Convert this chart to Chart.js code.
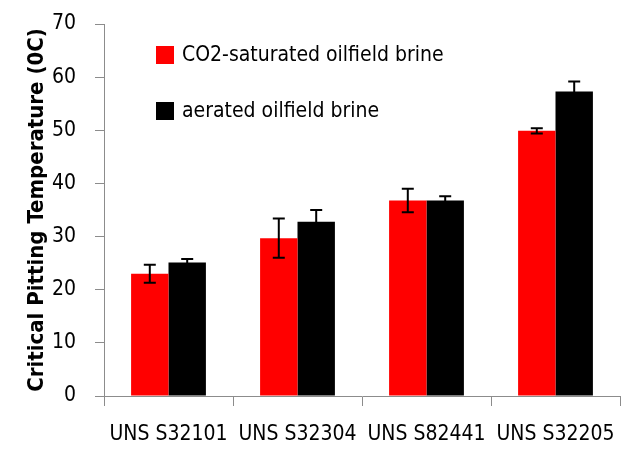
<!DOCTYPE html>
<html>
<head>
<meta charset="utf-8">
<script src="https://cdn.jsdelivr.net/npm/chart.js@4.4.0/dist/chart.umd.min.js"></script>
<style>
  html, body { margin: 0; padding: 0; background: #fff; }
  #wrap { width: 621px; height: 450px; }
</style>
</head>
<body>
<div id="wrap"><canvas id="chart-cpt" width="621" height="450"></canvas></div>
<script>
var alloys = ["UNS S32101", "UNS S32304", "UNS S82441", "UNS S32205"];
var co2Brine = [23.0, 29.7, 36.8, 49.9];
var co2Err = [1.7, 3.7, 2.2, 0.5];
var airBrine = [25.1, 32.8, 36.8, 57.3];
var airErr = [0.7, 2.2, 0.8, 1.9];
var yTicks = [0, 10, 20, 30, 40, 50, 60, 70];

var fontFam = "'DejaVu Sans Condensed', 'Liberation Sans Narrow', Arial, sans-serif";
var axisGray = '#8c8c8c';

// error bars, drawn through the y scale
var errorBars = {
    id: 'errorBars',
    afterDatasetsDraw: function (chart) {
        var ctx = chart.ctx;
        var y = chart.scales.y;
        ctx.save();
        ctx.strokeStyle = '#000';
        ctx.lineWidth = 2;
        chart.data.datasets.forEach(function (ds, i) {
            var meta = chart.getDatasetMeta(i);
            meta.data.forEach(function (bar, j) {
                var v = ds.data[j], e = ds.errors[j];
                var top = y.getPixelForValue(v + e);
                var bot = y.getPixelForValue(v - e);
                ctx.beginPath();
                ctx.moveTo(bar.x, top); ctx.lineTo(bar.x, bot);
                ctx.moveTo(bar.x - 6, top); ctx.lineTo(bar.x + 6, top);
                ctx.moveTo(bar.x - 6, bot); ctx.lineTo(bar.x + 6, bot);
                ctx.stroke();
            });
        });
        ctx.restore();
    }
};

// legend inside the plot, top left
var insideLegend = {
    id: 'insideLegend',
    afterDraw: function (chart) {
        var ctx = chart.ctx;
        var area = chart.chartArea;
        ctx.save();
        ctx.font = '21px ' + fontFam;
        ctx.textBaseline = 'middle';
        chart.data.datasets.forEach(function (ds, i) {
            var lx = area.left + 52;
            var ly = area.top + 31 + i * 56;
            ctx.fillStyle = ds.backgroundColor;
            ctx.fillRect(lx, ly - 9, 18, 18);
            ctx.fillStyle = '#000';
            ctx.fillText(ds.label, lx + 26, ly + 1);
        });
        ctx.restore();
    }
};

var cpt = new Chart(document.getElementById("chart-cpt").getContext('2d'), {
    type: 'bar',
    data: {
        labels: alloys,
        datasets: [{
            label: "CO2-saturated oilfield brine",
            data: co2Brine,
            errors: co2Err,
            backgroundColor: '#ff0000'
        }, {
            label: "aerated oilfield brine",
            data: airBrine,
            errors: airErr,
            backgroundColor: '#000000'
        }]
    },
    options: {
        responsive: false,
        animation: false,
        layout: { padding: { top: 24, right: 1, left: 0, bottom: 0 } },
        datasets: { bar: { categoryPercentage: 0.58, barPercentage: 1.0 } },
        plugins: {
            legend: { display: false },
            tooltip: { enabled: false }
        },
        scales: {
            x: {
                afterFit: function (s) { s.height = 54; s.paddingLeft = 0; s.paddingRight = 0; },
                grid: { offset: true, drawOnChartArea: false, tickLength: 10, color: axisGray },
                border: { color: axisGray, width: 1 },
                ticks: { color: '#000', font: { family: fontFam, size: 21 }, padding: 16, maxRotation: 0, autoSkip: false }
            },
            y: {
                min: 0,
                max: 70,
                afterFit: function (s) { s.width = 104; s.paddingTop = 0; s.paddingBottom = 0; },
                afterBuildTicks: function (s) { s.ticks = yTicks.map(function (v) { return { value: v }; }); },
                grid: { drawOnChartArea: false, tickLength: 9, color: axisGray },
                border: { color: axisGray, width: 1 },
                ticks: { color: '#000', font: { family: fontFam, size: 21 }, padding: 19 },
                title: {
                    display: true,
                    text: "Critical Pitting Temperature (0C)",
                    color: '#000',
                    font: { family: fontFam, size: 22, weight: 'bold' },
                    padding: { top: 24, bottom: 0 }
                }
            }
        }
    },
    plugins: [errorBars, insideLegend]
});
</script>
</body>
</html>
